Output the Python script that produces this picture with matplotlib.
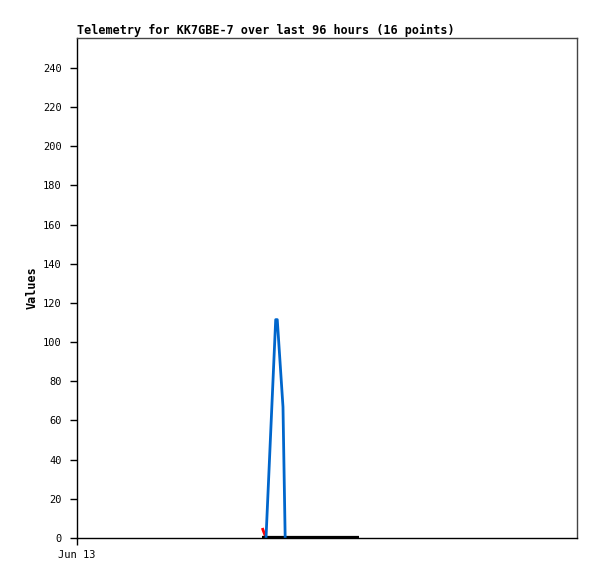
import matplotlib
matplotlib.use("Agg")
import matplotlib.pyplot as plt

# time in hours since Jun 13 00:00
blue_t = [36.29, 38.15, 38.45, 39.55, 39.97]
blue_v = [0.0, 111.5, 111.5, 66.9, 0.0]
red_t = [35.58, 35.87, 36.23]
red_v = [5.1, 3.0, 0.5]
black_t = [35.52, 54.14]
black_v = [0.0, 0.0]
xtick_pos = [0]
xtick_labels = ["Jun 13"]
ytick_pos = [0, 20, 40, 60, 80, 100, 120, 140, 160, 180, 200, 220, 240]

fig = plt.figure(figsize=(5.97, 5.79), dpi=100)
ax = fig.add_axes([77/597, 1-538/579, 500/597, 500/579])

ax.plot(red_t, red_v, color="#ff0000", lw=2, solid_capstyle="butt")
ax.plot(black_t, [v + 0.4 for v in black_v], color="#000000", lw=1.6,
        solid_capstyle="butt")
ax.plot(blue_t, blue_v, color="#0066cc", lw=2, solid_capstyle="butt")

ax.set_xlim(0, 96)
ax.set_ylim(0, 255.3)
ax.set_xticks(xtick_pos)
ax.set_xticklabels(xtick_labels)
ax.set_yticks(ytick_pos)
ax.set_yticklabels([str(v) for v in ytick_pos])
ax.tick_params(direction="out", length=5, width=1, labelsize=7.5, pad=6)
ax.tick_params(axis="x", pad=4)
for lbl in ax.get_xticklabels() + ax.get_yticklabels():
    lbl.set_family("DejaVu Sans Mono")

for s in ["left", "bottom"]:
    ax.spines[s].set_color("black")
    ax.spines[s].set_linewidth(1)
for s in ["top", "right"]:
    ax.spines[s].set_color("#444444")
    ax.spines[s].set_linewidth(1)

ax.set_title("Telemetry for KK7GBE-7 over last 96 hours (16 points)",
             loc="left", fontsize=8.45, fontweight="bold",
             family="DejaVu Sans Mono", pad=3)
ax.set_ylabel("Values", fontsize=8.5, fontweight="bold",
              family="DejaVu Sans Mono", labelpad=3)

fig.savefig("out.png", dpi=100)
